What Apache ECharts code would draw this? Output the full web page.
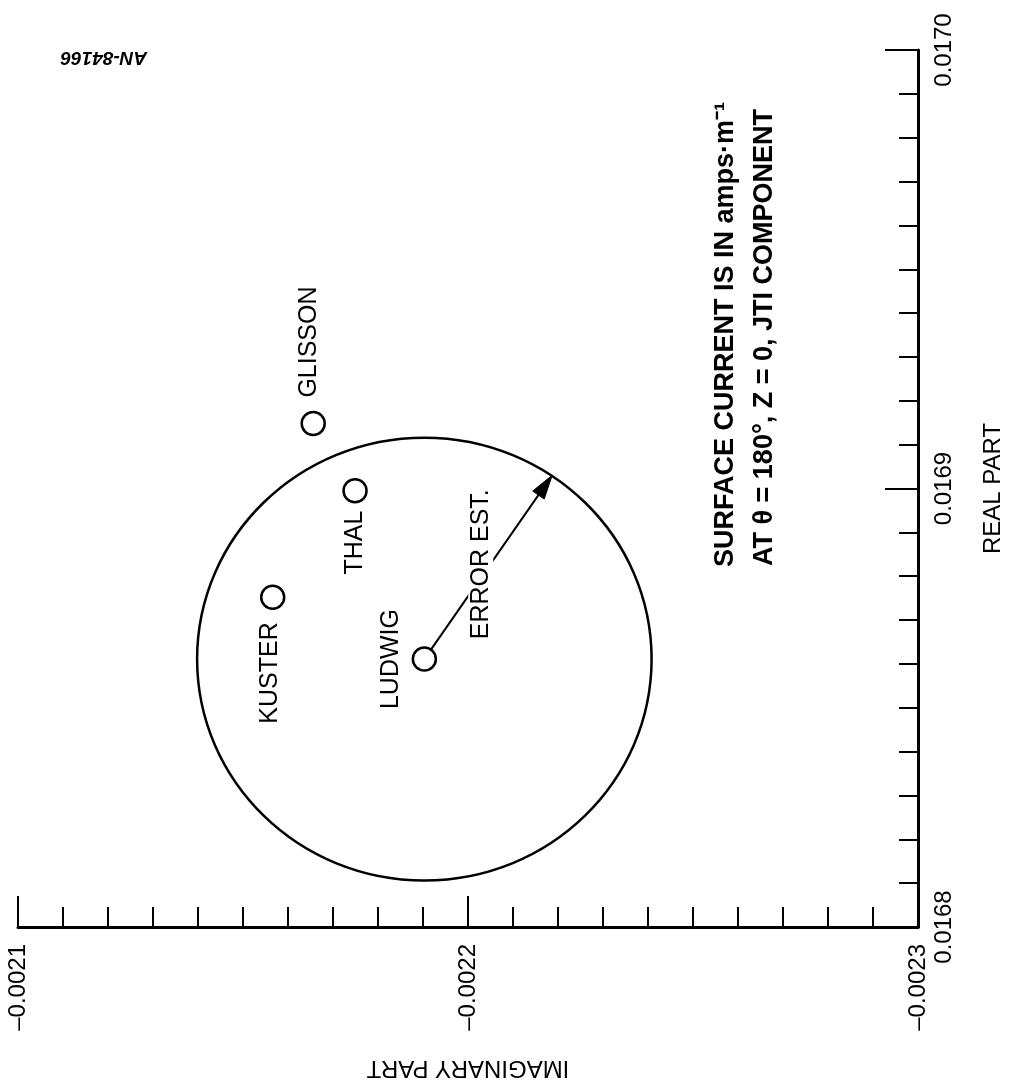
<!DOCTYPE html>
<html>
<head>
<meta charset="utf-8">
<script src="https://cdn.jsdelivr.net/npm/echarts@6/dist/echarts.min.js"></script>
<style>
html,body{margin:0;padding:0;background:#fff;}
#chart{width:1011px;height:1084px;}
</style>
</head>
<body>
<div id="chart"></div>
<script>
// ---- data ----
const methodNames = ['LUDWIG', 'KUSTER', 'THAL', 'GLISSON'];
const imagParts   = [-0.0021903, -0.0021566, -0.0021749, -0.0021656];
const realParts   = [0.0168611, 0.0168752, 0.0168995, 0.0169148];
const errorRadius = 0.0000505;                 // radius of error estimate circle (centred on LUDWIG)
const errorArrowTip = [-0.0022187, 0.0169030]; // [imag, real] point on circle the arrow points to
const imagTicks = [-0.0023, -0.0022, -0.0021];
const realTicks = [0.0168, 0.0169, 0.0170];
const axisTitles = ['IMAGINARY PART', 'REAL PART'];
const noteLines = ['SURFACE CURRENT IS IN amps\u00B7m\u207B\u00B9', 'AT \u03B8 = 180\u00B0, Z = 0, JTI COMPONENT'];
const figureId = 'AN-84166';
const errorLabel = 'ERROR EST.';

// ---- styling / placement (pixels) ----
const FONT = '"Liberation Sans", Arial, Helvetica, sans-serif';
const labelPlace = {
  LUDWIG:  {dx: -33, dy: 0,   align: 'center'},
  KUSTER:  {dx: -3,  dy: 25,  align: 'right'},
  THAL:    {dx: 0,   dy: 20,  align: 'right'},
  GLISSON: {dx: -4,  dy: -26, align: 'left'}
};

const chart = echarts.init(document.getElementById('chart'), null, {renderer: 'canvas'});

const xFmt = v => (v < 0 ? '\u2013' : '') + Math.abs(v).toFixed(4);
const yFmt = v => v.toFixed(4);

const option = {
  animation: false,
  backgroundColor: '#fff',
  grid: {left: 18, right: 93, top: 50, bottom: 157, outerBoundsMode: 'none', containLabel: false},
  xAxis: {
    type: 'value', min: imagTicks[0], max: imagTicks[imagTicks.length - 1], interval: 0.0001,
    inverse: true, position: 'bottom',
    name: axisTitles[0], nameLocation: 'middle', nameGap: 129, nameRotate: 180,
    nameTextStyle: {fontFamily: FONT, fontSize: 24, color: '#000'},
    axisLine: {show: true, onZero: false, lineStyle: {color: '#000', width: 3}},
    axisTick: {show: true, inside: true, length: 31, lineStyle: {color: '#000', width: 2}},
    minorTick: {show: true, splitNumber: 10, length: 20, lineStyle: {color: '#000', width: 2}},
    axisLabel: {show: true, rotate: 90, margin: 17, fontFamily: FONT, fontSize: 24, color: '#000',
      formatter: xFmt, showMinLabel: true, showMaxLabel: true},
    splitLine: {show: false}, minorSplitLine: {show: false}
  },
  yAxis: {
    type: 'value', min: realTicks[0], max: realTicks[realTicks.length - 1], interval: 0.0001,
    position: 'right',
    name: axisTitles[1], nameLocation: 'middle', nameGap: 63, nameRotate: 90,
    nameTextStyle: {fontFamily: FONT, fontSize: 24, color: '#000'},
    axisLine: {show: true, onZero: false, lineStyle: {color: '#000', width: 3}},
    axisTick: {show: true, inside: true, length: 33, lineStyle: {color: '#000', width: 2}},
    minorTick: {show: true, splitNumber: 10, length: 19, lineStyle: {color: '#000', width: 2}},
    axisLabel: {show: true, rotate: 90, margin: 14, fontFamily: FONT, fontSize: 24, color: '#000',
      formatter: yFmt, showMinLabel: true, showMaxLabel: true},
    splitLine: {show: false}, minorSplitLine: {show: false}
  },
  graphic: [
    {type: 'text', x: 726, y: 567, rotation: Math.PI / 2, z: 10,
     style: {text: noteLines[0], font: 'bold 27px ' + FONT, fill: '#000', align: 'left', verticalAlign: 'middle'}},
    {type: 'text', x: 765, y: 566, rotation: Math.PI / 2, z: 10,
     style: {text: noteLines[1], font: 'bold 27px ' + FONT, fill: '#000', align: 'left', verticalAlign: 'middle'}},
    {type: 'text', x: 104, y: 57, rotation: Math.PI, z: 10,
     style: {text: figureId, font: 'italic bold 19px ' + FONT, fill: '#000', align: 'center', verticalAlign: 'middle'}}
  ],
  series: [
    {
      name: 'error circle', type: 'custom', z: 2, silent: true,
      data: [[imagParts[0], realParts[0]]],
      renderItem: function (params, api) {
        const c = [api.value(0), api.value(1)];
        const p = api.coord(c);
        const s = api.size([errorRadius * 2, errorRadius * 2], c);
        return {type: 'ellipse', shape: {cx: p[0], cy: p[1], rx: s[0] / 2, ry: s[1] / 2},
                style: {fill: 'none', stroke: '#000', lineWidth: 2.5}};
      }
    },
    {
      name: 'error arrow', type: 'custom', z: 3, silent: true,
      data: [[imagParts[0], realParts[0], errorArrowTip[0], errorArrowTip[1]]],
      renderItem: function (params, api) {
        const p0 = api.coord([api.value(0), api.value(1)]);
        const p1 = api.coord([api.value(2), api.value(3)]);
        const dx = p1[0] - p0[0], dy = p1[1] - p0[1];
        const len = Math.sqrt(dx * dx + dy * dy);
        const ux = dx / len, uy = dy / len, nx = -uy, ny = ux;
        const L = 24, W = 7;
        const bx = p1[0] - ux * L, by = p1[1] - uy * L;
        const mx = (p0[0] + p1[0]) / 2, my = (p0[1] + p1[1]) / 2;
        return {type: 'group', children: [
          {type: 'line', shape: {x1: p0[0], y1: p0[1], x2: p1[0] - ux * L * 0.7, y2: p1[1] - uy * L * 0.7},
           style: {stroke: '#000', lineWidth: 2}},
          {type: 'polygon', shape: {points: [[p1[0], p1[1]], [bx + nx * W, by + ny * W], [bx - nx * W, by - ny * W]]},
           style: {fill: '#000', stroke: '#000', lineWidth: 1}},
          {type: 'text', x: mx - 7.5, y: my - 3, rotation: Math.PI / 2,
           style: {text: errorLabel, font: '25px ' + FONT, fill: '#000', align: 'center', verticalAlign: 'middle',
                   backgroundColor: '#fff', padding: [0, 3, 0, 3]}}
        ]};
      }
    },
    {
      name: 'methods', type: 'scatter', z: 5, silent: true,
      symbol: 'circle', symbolSize: 23,
      itemStyle: {color: '#fff', borderColor: '#000', borderWidth: 2.5, opacity: 1},
      emphasis: {disabled: true},
      data: imagParts.map((v, i) => [v, realParts[i]])
    },
    {
      name: 'method labels', type: 'custom', z: 6, silent: true,
      data: imagParts.map((v, i) => [v, realParts[i]]),
      renderItem: function (params, api) {
        const i = params.dataIndex;
        const p = api.coord([api.value(0), api.value(1)]);
        const pl = labelPlace[methodNames[i]];
        return {type: 'text', x: p[0] + pl.dx, y: p[1] + pl.dy, rotation: Math.PI / 2,
                style: {text: methodNames[i], font: '25px ' + FONT, fill: '#000', align: pl.align, verticalAlign: 'middle'}};
      }
    }
  ]
};
chart.setOption(option);
</script>
</body>
</html>
